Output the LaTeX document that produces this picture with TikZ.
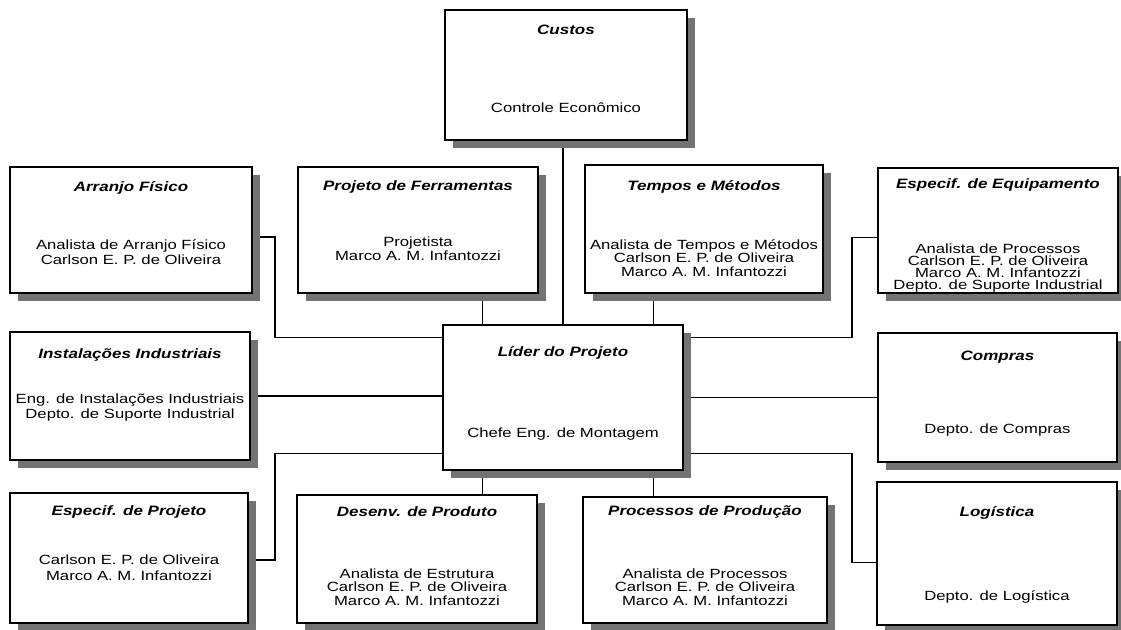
\documentclass[tikz,border=0pt]{standalone}
\usepackage{fontspec}
\setmainfont{Liberation Sans}[FakeStretch=1.25]
\usetikzlibrary{shadows,fit,backgrounds}
\begin{document}
\begin{tikzpicture}[x=0.75pt,y=-0.75pt,
  orgbox/.style={draw=black, line width=1.1pt, fill=white, inner sep=0pt,
    drop shadow={shadow xshift=6pt, shadow yshift=-6pt, fill=black!55, opacity=1}},
  ttl/.style={font=\bfseries\itshape\fontsize{10.2}{12}\selectfont, inner sep=0pt},
  bod/.style={font=\fontsize{10}{10}\selectfont, align=center, inner sep=0pt},
  bodtight/.style={bod, font=\fontsize{10}{9.2}\selectfont},
  bodwide/.style={bod, font=\fontsize{10}{10.8}\selectfont},
  bodwider/.style={bod, font=\fontsize{10}{11.8}\selectfont},
  conn/.style={line width=0.8pt}]
\useasboundingbox (0,0) rectangle (1121,629);

% boxes
\node[orgbox, fit={(445,10) (687,140)}] (cus) {};
\node[orgbox, fit={(10,167) (252,293)}] (arr) {};
\node[orgbox, fit={(298,167) (538,293)}] (pf) {};
\node[orgbox, fit={(585,165) (823,293)}] (tm) {};
\node[orgbox, fit={(878,168) (1118,293)}] (ee) {};
\node[orgbox, fit={(10,332) (250,460)}] (ins) {};
\node[orgbox, fit={(443,325) (683,470)}] (lid) {};
\node[orgbox, fit={(878,333) (1117,462)}] (com) {};
\node[orgbox, fit={(10,493) (248,623)}] (ep) {};
\node[orgbox, fit={(297,495) (537,623)}] (dp) {};
\node[orgbox, fit={(583,497) (827,623)}] (pp) {};
\node[orgbox, fit={(877,482) (1117,625)}] (log) {};

% texts
\node[ttl] (cus-t) at (566,30) {Custos};
\node[bod] (cus-b) at (566,108) {Controle Econômico};

\node[ttl] (arr-t) at (131,188) {Arranjo Físico};
\node[bodwide] (arr-b) at (131,252) {Analista de Arranjo Físico\\Carlson E. P. de Oliveira};

\node[ttl] (pf-t) at (418,187) {Projeto de Ferramentas};
\node[bodwide] (pf-b) at (418,248.5) {Projetista\\Marco A. M. Infantozzi};

\node[ttl] (tm-t) at (704,187) {Tempos e Métodos};
\node[bod] (tm-b) at (704,258) {Analista de Tempos e Métodos\\Carlson E. P. de Oliveira\\Marco A. M. Infantozzi};

\node[ttl] (ee-t) at (998,185) {Especif. de Equipamento};
\node[bodtight] (ee-b) at (998,268) {Analista de Processos\\Carlson E. P. de Oliveira\\Marco A. M. Infantozzi\\Depto. de Suporte Industrial};

\node[ttl] (ins-t) at (130,355) {Instalações Industriais};
\node[bodwider] (ins-b) at (130,407.5) {Eng. de Instalações Industriais\\Depto. de Suporte Industrial};

\node[ttl] (lid-t) at (563,353) {Líder do Projeto};
\node[bod] (lid-b) at (563,434) {Chefe Eng. de Montagem};

\node[ttl] (com-t) at (997.5,357) {Compras};
\node[bod] (com-b) at (997.5,430) {Depto. de Compras};

\node[ttl] (ep-t) at (129,512) {Especif. de Projeto};
\node[bodwider] (ep-b) at (129,568) {Carlson E. P. de Oliveira\\Marco A. M. Infantozzi};

\node[ttl] (dp-t) at (417,512) {Desenv. de Produto};
\node[bod] (dp-b) at (417,587) {Analista de Estrutura\\Carlson E. P. de Oliveira\\Marco A. M. Infantozzi};

\node[ttl] (pp-t) at (705,512) {Processos de Produção};
\node[bod] (pp-b) at (705,587) {Analista de Processos\\Carlson E. P. de Oliveira\\Marco A. M. Infantozzi};

\node[ttl] (log-t) at (997,513) {Logística};
\node[bod] (log-b) at (997,597) {Depto. de Logística};

% connectors (behind boxes and shadows)
\coordinate (lx) at (275,0);
\coordinate (rx) at (852,0);
\begin{scope}[on background layer]
\fill[white] (0,0) rectangle (1121,629);
\draw[conn] (cus.south -| lid.north) -- (lid.north);
\draw[conn] ([xshift=30pt]lid.north west) coordinate (a1) -- (a1 |- pf.south);
\draw[conn] ([xshift=-23pt]lid.north east) coordinate (a2) -- (a2 |- tm.south);
\draw[conn] ([xshift=30pt]lid.south west) coordinate (a3) -- (a3 |- dp.north);
\draw[conn] ([xshift=-23pt]lid.south east) coordinate (a4) -- (a4 |- pp.north);
\draw[conn] ([yshift=-5.25pt]arr.east) coordinate (b1) -- (b1 -| lx) |- ([yshift=-9.75pt]lid.north west);
\draw[conn] (ins.east) -- (ins.east -| lid.west);
\draw[conn] ([yshift=-1.5pt]ep.east) coordinate (b2) -- (b2 -| lx) |- ([yshift=12.75pt]lid.south west);
\draw[conn] ([yshift=-9.75pt]lid.north east) coordinate (c1) -- (c1 -| rx) |- ([yshift=-4.9pt]ee.west);
\draw[conn] (lid.east) -- (lid.east -| com.west);
\draw[conn] ([yshift=12.75pt]lid.south east) coordinate (c2) -- (c2 -| rx) |- ([yshift=-6.75pt]log.west);
\end{scope}
\end{tikzpicture}
\end{document}
